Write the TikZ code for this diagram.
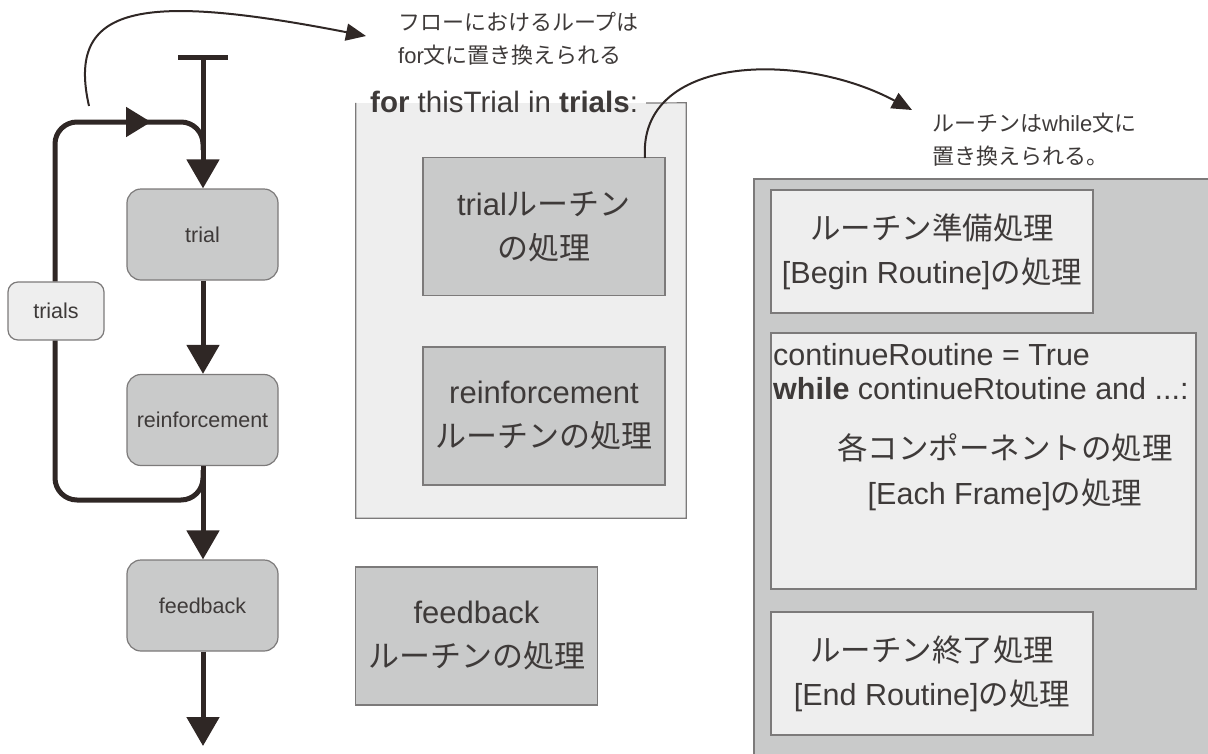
\documentclass[tikz,border=0pt]{standalone}
\usepackage{fontspec}
\setmainfont{Liberation Sans}
\newfontfamily\jpf{Noto Sans CJK JP}
\newcommand\J[1]{{\jpf #1}}
\usetikzlibrary{arrows.meta,decorations.markings}
\definecolor{txt}{HTML}{3E3A39}
\definecolor{ink}{HTML}{2F2725}
\definecolor{dgray}{HTML}{C9CACA}
\definecolor{lgray}{HTML}{EEEEEE}
\definecolor{bord}{HTML}{7C7A7A}
\tikzset{
  flownode/.style={draw=bord, line width=1.2pt, fill=dgray, rounded corners=14pt,
    minimum width=151pt, minimum height=91pt, inner sep=0pt, text=txt, font=\fontsize{21.5}{24}\selectfont},
  loopnode/.style={flownode, fill=lgray, rounded corners=10pt, minimum width=96pt, minimum height=58pt},
  flow/.style={draw=ink, line width=5pt},
  bigtip/.tip={Triangle[length=29pt,width=32pt]},
  note/.style={draw=ink, line width=2pt, -{Triangle[length=20pt,width=17pt]}},
  routbox/.style={draw=bord, line width=1.2pt, fill=dgray, minimum width=242pt, minimum height=138pt,
    inner sep=0pt, align=center, text=txt, font=\fontsize{31}{44}\selectfont},
  procbox/.style={draw=bord, line width=1.2pt, fill=lgray, inner sep=0pt, align=center, text=txt,
    font=\fontsize{30.5}{44}\selectfont},
  notetext/.style={anchor=base west, inner sep=0pt, text=txt, font=\fontsize{22}{33}\selectfont, align=left},
}
\begin{document}
\begin{tikzpicture}[x=1pt,y=-1pt]
\useasboundingbox (0,0) rectangle (1208,753);

% ---------- flow (left) ----------
\node[flownode] (trial) at (202.5,234.5) {trial};
\node[flownode] (reinf) at (202.5,420) {reinforcement};
\node[flownode] (feedback) at (202.5,605.5) {feedback};
\node[loopnode] (trials) at (56,311) {trials};

\coordinate (start) at (203,55);
\coordinate (merge) at (203,150);
\coordinate (split) at (203,470);
\coordinate (end) at (203,746);

\draw[flow, {Bar[width=50pt]}-bigtip] (start) -- (trial.north -| start);
\draw[flow, -bigtip] (trial.south -| start) -- (reinf.north -| start);
\draw[flow, -bigtip] (reinf.south -| start) -- (feedback.north -| start);
\draw[flow, -bigtip] (feedback.south -| start) -- (end);

\draw[flow, rounded corners=22pt, postaction={decorate},
  decoration={markings, mark=at position 246pt with {\arrow[ink]{Triangle[length=25pt,width=29pt]}}}]
  (trials.north -| 55,0) |- (203,122) -- (merge);
\draw[flow, rounded corners=22pt] (split) |- (55,500) -- (trials.south -| 55,0);

% top annotation
\coordinate (n1s) at (89,106);
\coordinate (n1e) at (366,36);
\draw[note] (n1s) .. controls (66,5) and (140,-8) .. (n1e);
\node[notetext] (lab1) at (398,63) {\J{フローにおけるループは}\\for\J{文に置き換えられる}};

% ---------- for box ----------
\node[fill=lgray, minimum width=330pt, minimum height=415pt, inner sep=0pt] (forbox) at (521,310.5) {};
\draw[bord, line width=1.2pt] (646,103) -- (forbox.north east) -- (forbox.south east) -- (forbox.south west) -- (forbox.north west);
\node[anchor=base west, inner sep=0pt, text=txt, font=\fontsize{29.5}{34}\selectfont] (fortitle) at (370,112)
  {\textbf{for} thisTrial in \textbf{trials}:};

\node[routbox] (tbox) at (544,226.5) {trial\J{ルーチン}\\\J{の処理}};
\node[routbox] (rbox) at (544,416) {reinforcement\\\J{ルーチンの処理}};
\node[routbox] (fbox) at (476.5,636) {feedback\\\J{ルーチンの処理}};

\coordinate (n2s) at (645,158);
\coordinate (n2e) at (912,110);
\draw[note] (n2s) .. controls (638,55) and (800,50) .. (n2e);
\node[notetext] (lab2) at (932,164) {\J{ルーチンは}while\J{文に}\\\J{置き換えられる。}};

% ---------- routine box ----------
\node[fill=dgray, minimum width=460pt, minimum height=580pt, inner sep=0pt, anchor=north west] (rout) at (754,179) {};
\draw[bord, line width=1.2pt] (rout.south west) -- (rout.north west) -- (rout.north east);

\node[procbox, minimum width=322pt, minimum height=123pt] (begin) at (932,251.5)
  {\J{ルーチン準備処理}\\{[Begin Routine]}\J{の処理}};
\node[procbox, minimum width=425pt, minimum height=256pt] (each) at (983.5,461) {};
\node[anchor=base west, inner sep=0pt, text=txt, font=\fontsize{30.5}{34}\selectfont, align=left] (code) at (773,399)
  {continueRoutine = True\\\textbf{while} continueRtoutine and ...:};
\node[anchor=center, inner sep=0pt, text=txt, font=\fontsize{30.5}{45}\selectfont, align=center] (eachtxt) at (1005,472)
  {\J{各コンポーネントの処理}\\{[Each Frame]}\J{の処理}};
\node[procbox, minimum width=322pt, minimum height=123pt] (endr) at (932,673.5)
  {\J{ルーチン終了処理}\\{[End Routine]}\J{の処理}};
\end{tikzpicture}
\end{document}
